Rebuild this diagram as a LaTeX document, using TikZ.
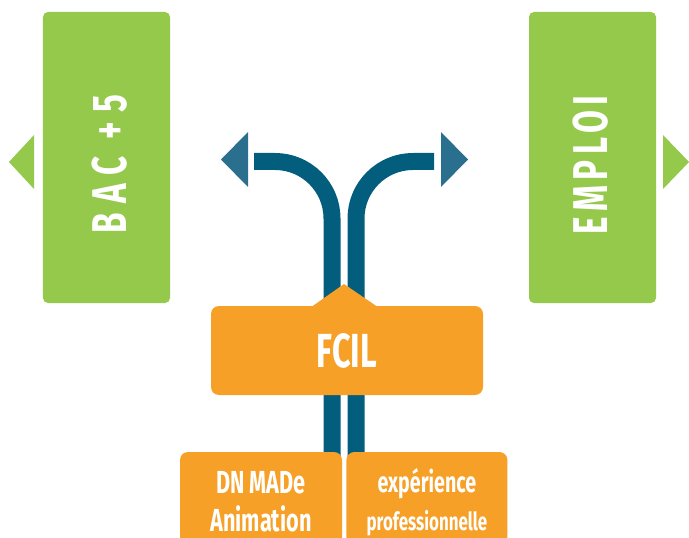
\documentclass[tikz,border=0pt]{standalone}
\usepackage{fontspec}
\usetikzlibrary{positioning}
\newfontfamily\dinfont{Fira Sans}[FakeStretch=0.68]
\newfontfamily\dinspaced{Fira Sans}[FakeStretch=0.68,LetterSpace=19]
\newfontfamily\dinnarrow{Fira Sans}[FakeStretch=0.68,LetterSpace=11]
\definecolor{fcgreen}{HTML}{95C94B}
\definecolor{fcorange}{HTML}{F7A028}
\definecolor{fcblue}{HTML}{035D7D}
\definecolor{fcarrow}{HTML}{2B6F8E}

\tikzset{
  greenbox/.style={fill=fcgreen, rounded corners=5bp,
    minimum width=127bp, minimum height=291bp, inner sep=0pt},
  greenlabel/.style={rotate=90, inner sep=0pt, text=white,
    font=\dinspaced\bfseries\fontsize{49}{49}\selectfont},
  orangebox/.style={fill=fcorange, rounded corners=8bp, inner sep=0pt, text=white},
  branch/.style={draw=fcblue, line width=17bp, rounded corners=57bp},
  arrowtip/.style={fill=fcarrow},
  sidetip/.style={fill=fcgreen}
}

\begin{document}
\begin{tikzpicture}[x=1bp,y=-1bp]
\useasboundingbox (0,0) rectangle (689,538);

% two branches out of the FCIL
\coordinate (lfoot) at (332,460);
\coordinate (rfoot) at (356,460);
\coordinate (lhead) at (254,161.5);
\coordinate (rhead) at (434,161.5);
\draw[branch] (lfoot) |- (lhead);
\draw[branch] (rfoot) |- (rhead);
\fill[arrowtip] (248,132) -- (221,159.5) -- (248,187) -- cycle;
\fill[arrowtip] (441,132) -- (468,159.5) -- (441,187) -- cycle;

% outcomes
\node[greenbox] (bac) at (106.5,157.5) {};
\node[greenbox] (emploi) at (592.5,157.5) {};
\node[greenlabel] (baclabel) at (110,164) {BAC +5};
\node[greenlabel, font=\dinnarrow\bfseries\fontsize{49}{49}\selectfont]
  (emploilabel) at (591,165) {EMPLOI};
\fill[sidetip] (34,135) -- (9,162) -- (34,189) -- cycle;
\fill[sidetip] (663,135) -- (689,162) -- (663,189) -- cycle;

% the FCIL itself
\node[orangebox, minimum width=272bp, minimum height=89bp,
  font=\dinfont\bfseries\fontsize{48}{48}\selectfont] (fcil) at (347,350.5) {FCIL};
\fill[fcorange] (312,306.5) -- (344,284) -- (377,306.5) -- cycle;

% entry routes
\node[orangebox, minimum width=162bp, minimum height=100bp, align=center,
  font=\dinfont\bfseries\fontsize{32}{38}\selectfont] (dnmade) at (261,502) {DN MADe\\Animation};
\node[orangebox, minimum width=161bp, minimum height=100bp, align=center,
  right=4bp of dnmade, font=\dinfont\bfseries\fontsize{29}{38}\selectfont] (experience)
  {expérience\\{\fontsize{25}{38}\selectfont professionnelle}};
\end{tikzpicture}
\end{document}
